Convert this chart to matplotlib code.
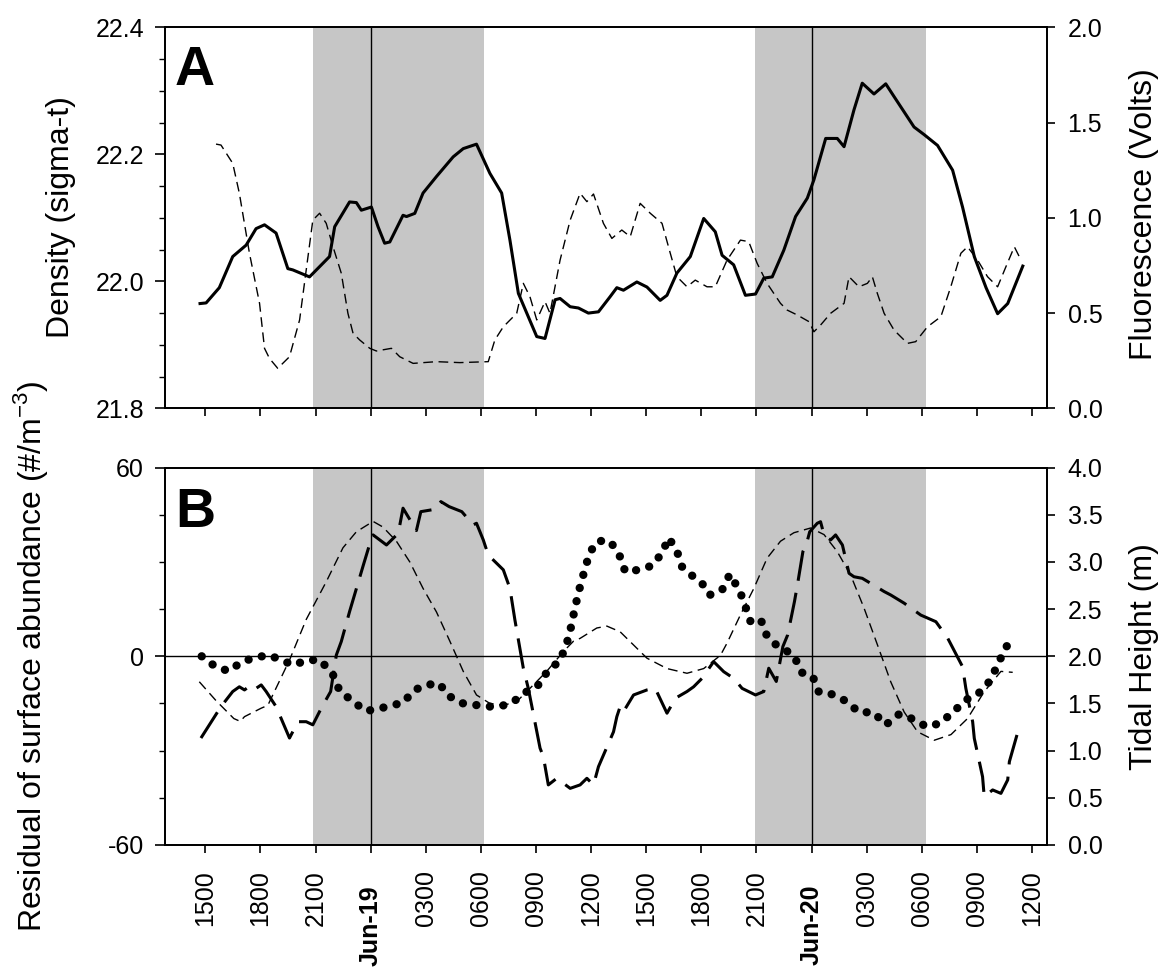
import matplotlib
matplotlib.use("Agg")
import matplotlib.pyplot as plt
import matplotlib.transforms as mtransforms
from matplotlib.ticker import MultipleLocator, FormatStrFormatter

plt.rcParams['font.family'] = ['Liberation Sans', 'DejaVu Sans']
plt.rcParams['mathtext.fontset'] = 'custom'
plt.rcParams['mathtext.rm'] = 'Liberation Sans'
plt.rcParams['axes.unicode_minus'] = False

# time axis: hours relative to midnight of Jun-19
tick_hours = list(range(-9, 37, 3))
tick_labels = ['1500', '1800', '2100', 'Jun-19', '0300', '0600', '0900', '1200',
               '1500', '1800', '2100', 'Jun-20', '0300', '0600', '0900', '1200']
night_start = [-3.14, 20.9]
night_end = [6.15, 30.25]
midnights = [0, 24]

# panel A: density (sigma-t)
dens_hours = [-9.29, -8.96, -8.24, -7.51, -6.78, -6.24, -5.78, -5.15, -4.51, -4.24,
              -3.33, -2.24, -1.96, -1.15, -0.78, -0.51, 0.04, 0.40, 0.76, 1.04,
              1.76, 1.95, 2.40, 2.85, 3.58, 4.49, 5.04, 5.76, 6.49, 7.13,
              7.58, 8.04, 9.04, 9.49, 10.04, 10.31, 10.86, 11.31, 11.85, 12.40,
              13.04, 13.40, 13.76, 14.49, 15.04, 15.76, 16.13, 16.67, 17.40, 18.13,
              18.76, 19.13, 19.76, 20.40, 20.95, 21.40, 21.86, 22.49, 23.13, 23.77,
              24.13, 24.77, 25.40, 25.77, 26.31, 26.76, 27.40, 28.04, 28.49, 29.58,
              30.13, 30.86, 31.68, 32.22, 32.86, 33.50, 34.13, 34.68, 35.50]
density = [21.965, 21.966, 21.990, 22.039, 22.057, 22.083, 22.089, 22.076, 22.020, 22.018,
           22.007, 22.039, 22.086, 22.125, 22.124, 22.112, 22.117, 22.086, 22.060, 22.062,
           22.104, 22.102, 22.107, 22.139, 22.165, 22.196, 22.209, 22.216, 22.170, 22.139,
           22.065, 21.981, 21.913, 21.910, 21.971, 21.973, 21.960, 21.958, 21.950, 21.952,
           21.976, 21.990, 21.986, 21.999, 21.991, 21.970, 21.978, 22.013, 22.039, 22.099,
           22.078, 22.041, 22.026, 21.978, 21.980, 22.005, 22.007, 22.049, 22.102, 22.131,
           22.160, 22.225, 22.225, 22.212, 22.270, 22.312, 22.295, 22.311, 22.291, 22.243,
           22.231, 22.214, 22.175, 22.117, 22.039, 21.990, 21.949, 21.965, 22.024]

# panel A: fluorescence (volts)
fluor_hours = [-8.42, -8.15, -7.51, -7.15, -6.60, -6.05, -5.78, -5.51, -5.06, -4.42,
               -3.87, -3.51, -3.15, -2.78, -2.42, -2.05, -1.60, -1.24, -0.96, -0.60,
               -0.05, 0.31, 1.13, 1.58, 2.31, 3.58, 4.85, 6.40, 6.76, 7.22,
               7.95, 8.31, 8.67, 9.04, 9.49, 9.76, 10.31, 10.86, 11.40, 11.77,
               12.13, 12.67, 13.13, 13.67, 14.13, 14.67, 15.22, 15.86, 16.31, 16.67,
               17.22, 17.67, 18.31, 18.76, 19.40, 20.13, 20.58, 21.04, 21.58, 22.31,
               22.67, 23.22, 23.86, 24.13, 24.49, 25.04, 25.77, 26.04, 26.58, 27.04,
               27.31, 27.58, 27.95, 28.49, 29.22, 29.67, 30.31, 31.04, 31.58, 32.13,
               32.49, 33.04, 33.58, 34.13, 34.58, 35.04, 35.31]
fluor = [1.387, 1.382, 1.286, 1.129, 0.814, 0.551, 0.315, 0.262, 0.210, 0.271,
         0.464, 0.726, 0.988, 1.024, 0.971, 0.848, 0.709, 0.499, 0.394, 0.359,
         0.315, 0.301, 0.315, 0.271, 0.236, 0.245, 0.240, 0.245, 0.359, 0.428,
         0.499, 0.656, 0.586, 0.464, 0.560, 0.499, 0.778, 0.988, 1.129, 1.085,
         1.125, 0.971, 0.892, 0.936, 0.901, 1.076, 1.024, 0.971, 0.814, 0.691,
         0.638, 0.673, 0.638, 0.638, 0.778, 0.883, 0.875, 0.761, 0.656, 0.551,
         0.516, 0.490, 0.455, 0.402, 0.437, 0.499, 0.551, 0.691, 0.638, 0.656,
         0.691, 0.604, 0.499, 0.411, 0.341, 0.350, 0.428, 0.481, 0.638, 0.814,
         0.848, 0.778, 0.691, 0.638, 0.743, 0.848, 0.796]

# panel B: residual abundance, dotted series
dot_hours = [-9.20, -8.45, -7.73, -7.00, -6.27, -5.55, -4.87, -4.20, -3.47, -2.74,
             -2.05, -1.69, -1.00, -0.27, 0.45, 1.18, 1.73, 2.40, 3.04, 3.73,
             4.22, 4.95, 5.73, 6.45, 7.18, 7.73, 8.45, 9.18, 9.67, 10.27,
             10.64, 10.86, 11.04, 11.22, 11.44, 11.67, 11.91, 12.35, 13.04, 13.55,
             13.86, 14.59, 15.31, 15.86, 16.22, 16.67, 16.95, 17.40, 18.04, 18.45,
             19.13, 19.55, 20.09, 20.40, 20.67, 21.22, 21.55, 21.95, 22.46, 23.07,
             23.44, 24.07, 24.40, 25.13, 25.86, 26.59, 27.37, 28.04, 28.77, 29.49,
             30.27, 31.00, 31.73, 32.40, 33.09, 33.67, 34.09, 34.46, 34.95]
resid_dots = [0.0, -3.3, -4.7, -1.7, -0.4, 0.4, -1.2, -2.8, -1.2, -1.2,
              -5.9, -11.0, -14.2, -17.4, -16.7, -15.5, -14.9, -10.7, -9.1, -8.6,
              -12.5, -14.9, -15.5, -16.0, -15.7, -14.6, -11.4, -8.9, -4.3, -1.7,
              3.4, 8.1, 13.1, 17.9, 23.2, 27.8, 32.8, 36.7, 36.6, 32.0,
              26.9, 27.5, 28.8, 32.8, 37.7, 33.5, 28.5, 26.1, 23.2, 19.5,
              21.1, 26.1, 20.8, 15.8, 11.2, 11.9, 6.8, 4.1, 2.5, -0.1,
              -5.1, -6.5, -11.4, -12.1, -14.2, -17.8, -17.8, -21.8, -18.4, -19.9,
              -22.4, -21.3, -17.6, -13.9, -11.8, -8.1, -3.3, 1.5, 6.5]

# panel B: residual abundance, long-dash series
dash_hours = [-9.24, -8.15, -7.51, -7.15, -6.87, -6.51, -6.24, -5.96, -5.69, -5.15,
              -4.42, -3.96, -3.51, -3.15, -2.69, -2.18, -1.87, -1.60, -1.15, -0.40,
              0.04, 0.13, 0.86, 1.50, 1.76, 2.49, 2.73, 3.55, 3.82, 4.27,
              4.96, 5.58, 5.76, 6.13, 6.40, 7.22, 7.58, 7.85, 8.31, 8.58,
              8.76, 9.22, 9.40, 9.67, 10.13, 10.86, 11.40, 11.77, 12.13, 12.40,
              13.22, 13.40, 13.58, 13.76, 14.31, 15.04, 15.49, 16.13, 16.60, 17.22,
              17.58, 18.04, 18.67, 19.22, 19.76, 20.22, 20.95, 21.40, 21.67, 22.08,
              22.44, 22.70, 23.07, 23.26, 23.53, 23.71, 23.90, 24.31, 24.49, 24.68,
              25.04, 25.31, 25.68, 26.04, 26.31, 26.76, 27.22, 27.67, 27.95, 28.31,
              29.04, 29.95, 30.77, 31.40, 32.22, 32.40, 32.77, 32.86, 33.31, 33.40,
              33.86, 34.31, 34.68, 34.77, 35.31]
resid_dash = [-26.0, -16.0, -11.2, -9.7, -10.7, -9.1, -10.2, -9.1, -11.2, -16.0,
              -26.0, -20.8, -20.8, -21.8, -16.5, -11.2, 0.4, 4.7, 14.2, 29.0,
              37.5, 38.6, 35.4, 39.1, 47.1, 40.0, 46.0, 46.8, 49.2, 47.6,
              46.0, 41.8, 42.3, 37.0, 32.2, 27.5, 21.6, 11.6, -3.8, -10.2,
              -15.5, -29.2, -31.9, -40.9, -38.8, -42.0, -40.9, -38.8, -40.9, -35.1,
              -24.0, -19.2, -16.0, -17.6, -12.3, -10.7, -10.2, -18.1, -13.3, -11.2,
              -9.7, -7.0, -1.7, -4.9, -7.0, -10.2, -12.3, -11.2, -3.8, -8.0,
              3.1, 6.8, 17.4, 23.7, 33.3, 35.4, 39.6, 42.3, 42.8, 38.6,
              37.0, 38.6, 35.4, 26.4, 25.3, 24.8, 23.2, 21.6, 20.6, 19.5,
              16.9, 13.1, 11.0, 5.9, -3.3, -10.2, -20.8, -26.1, -38.3, -44.6,
              -42.5, -43.6, -39.3, -33.5, -22.4]

# panel B: tidal height (m)
tide_hours = [-9.33, -8.42, -7.45, -7.10, -6.87, -5.96, -5.60, -4.42, -3.51, -2.42,
              -1.51, -0.78, 0.13, 0.67, 1.40, 2.13, 2.85, 3.58, 4.31, 5.04,
              5.76, 6.49, 7.22, 7.95, 8.67, 9.58, 10.49, 11.04, 11.40, 12.31,
              12.86, 13.58, 14.31, 15.04, 16.13, 17.22, 18.13, 19.04, 19.40, 20.13,
              20.86, 21.58, 22.31, 23.04, 23.95, 24.68, 25.40, 26.13, 26.86, 27.59,
              28.31, 29.04, 29.77, 30.68, 31.59, 32.49, 33.40, 34.31, 34.95]
tide = [1.73, 1.53, 1.34, 1.31, 1.36, 1.45, 1.48, 1.96, 2.39, 2.79,
        3.15, 3.32, 3.43, 3.37, 3.22, 3.00, 2.72, 2.47, 2.16, 1.84,
        1.59, 1.50, 1.48, 1.52, 1.66, 1.84, 2.05, 2.16, 2.19, 2.30,
        2.32, 2.26, 2.12, 1.98, 1.87, 1.82, 1.87, 2.01, 2.14, 2.44,
        2.72, 3.04, 3.22, 3.31, 3.36, 3.29, 3.11, 2.86, 2.51, 2.12,
        1.73, 1.41, 1.20, 1.11, 1.17, 1.34, 1.625, 1.84, 1.83]

shade = '#c6c6c6'
tick_fs = 18
label_fs = 23

fig = plt.figure(figsize=(11.6, 9.72), dpi=100)
axA = fig.add_axes([0.1422, 0.5799, 0.7601, 0.3920])
axB = fig.add_axes([0.1422, 0.1307, 0.7601, 0.3882])


def frame(ax):
    ax.set_xlim(-11.2, 36.8)
    for s in ax.spines.values():
        s.set_linewidth(1.3)
    for a, b in zip(night_start, night_end):
        ax.axvspan(a, b, color=shade, lw=0, zorder=0)
    for m in midnights:
        ax.axvline(m, color='k', lw=1.0, zorder=1)
    ax.set_xticks(tick_hours)
    ax.tick_params(axis='x', direction='out', length=6, width=1.2, pad=12,
                   labelsize=tick_fs)
    ax.tick_params(axis='y', which='major', direction='out', length=7, width=1.2,
                   pad=8, labelsize=tick_fs)
    ax.tick_params(axis='y', which='minor', direction='out', length=4, width=1.0)


def right_axis(ax, top):
    ax.set_ylim(0, top)
    ax.yaxis.set_major_locator(MultipleLocator(0.5))
    ax.yaxis.set_major_formatter(FormatStrFormatter('%.1f'))
    ax.tick_params(axis='y', direction='out', length=6, width=1.2, pad=9,
                   labelsize=tick_fs)
    for s in ax.spines.values():
        s.set_linewidth(1.3)


# ---- panel A ----
frame(axA)
axA.set_ylim(21.8, 22.4)
axA.yaxis.set_major_locator(MultipleLocator(0.2))
axA.yaxis.set_minor_locator(MultipleLocator(0.05))
axA.yaxis.set_major_formatter(FormatStrFormatter('%.1f'))
axA.tick_params(axis='x', labelbottom=False)
axA.plot(dens_hours, density, color='k', lw=2.2, solid_joinstyle='round', zorder=3)

axA2 = axA.twinx()
right_axis(axA2, 2.0)
axA2.plot(fluor_hours, fluor, color='k', lw=1.0, dashes=(7, 4))

# ---- panel B ----
frame(axB)
axB.set_ylim(-60, 60)
axB.yaxis.set_major_locator(MultipleLocator(60))
axB.yaxis.set_minor_locator(MultipleLocator(15))
axB.yaxis.set_major_formatter(FormatStrFormatter('%d'))
axB.axhline(0, color='k', lw=1.0, zorder=1)
# big round dots along the path
axB.plot(dot_hours, resid_dots, color='k', lw=6, ls=(0, (0.01, 1.62)),
         dash_capstyle='round', zorder=3)
axB.plot(dash_hours, resid_dash, color='k', lw=2.2, dashes=(10, 4),
         dash_joinstyle='round', zorder=3)
axB.set_xticklabels(tick_labels, rotation=90)

# day labels sit a little lower and in bold
shift = mtransforms.ScaledTranslation(0, -0.15, fig.dpi_scale_trans)
for lab in axB.get_xticklabels():
    if lab.get_text().startswith('Jun'):
        lab.set_fontweight('bold')
        lab.set_transform(lab.get_transform() + shift)

axB2 = axB.twinx()
right_axis(axB2, 4.0)
axB2.plot(tide_hours, tide, color='k', lw=1.0, dashes=(7, 4))

# axis titles and panel letters
fig.text(0.0526, 0.7766, 'Density (sigma-t)', rotation=90, ha='center', va='center',
         fontsize=label_fs)
fig.text(0.0267, 0.3246, r'Residual of surface abundance (#/m$^{\mathregular{-3}}$)',
         rotation=90, ha='center', va='center', fontsize=label_fs)
fig.text(0.9862, 0.7798, 'Fluorescence (Volts)', rotation=90, ha='center', va='center',
         fontsize=label_fs)
fig.text(0.9862, 0.3247, 'Tidal Height (m)', rotation=90, ha='center', va='center',
         fontsize=label_fs)
fig.text(175 / 1160, 1 - 45 / 972, 'A', fontsize=40, fontweight='bold', ha='left',
         va='top', family=['Liberation Sans Narrow', 'Liberation Sans'])
fig.text(175 / 1160, 1 - 487 / 972, 'B', fontsize=40, fontweight='bold', ha='left',
         va='top', family=['Liberation Sans Narrow', 'Liberation Sans'])

fig.savefig('out.png', dpi=100)
